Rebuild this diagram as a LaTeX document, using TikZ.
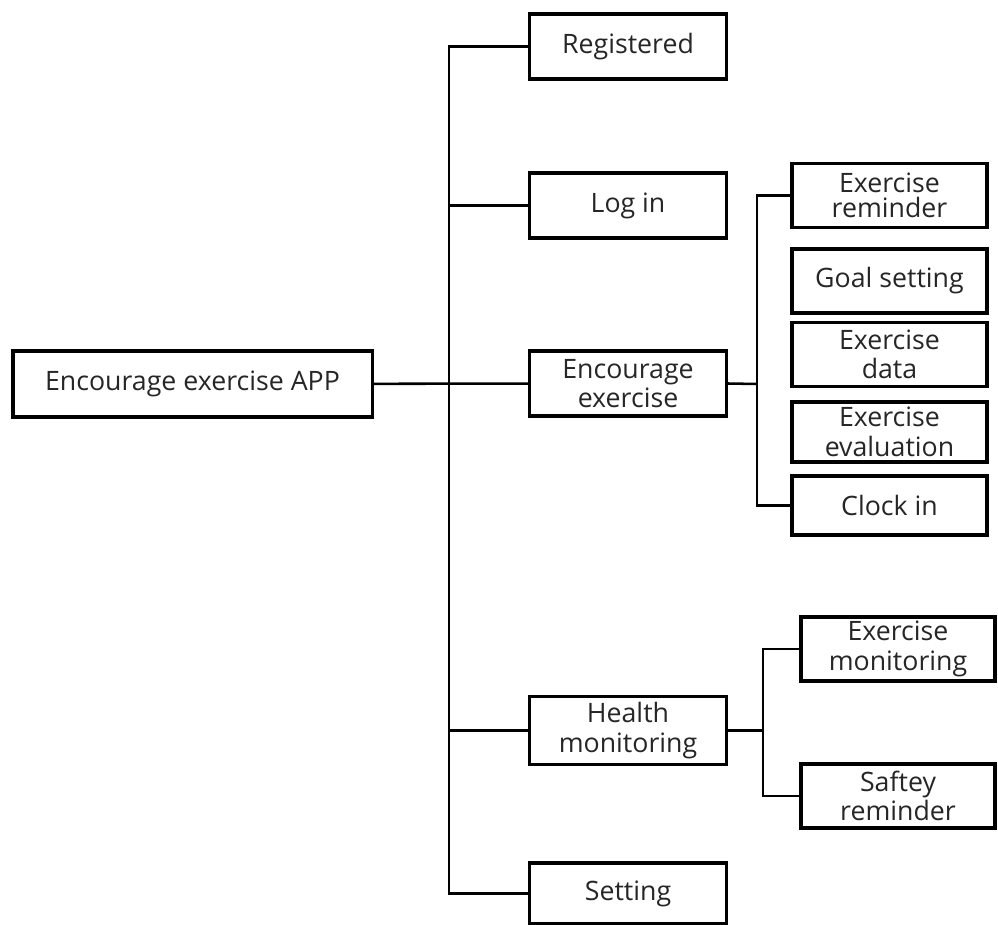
\documentclass[tikz,border=0pt]{standalone}
\usepackage{fontspec}
\setmainfont{Open Sans}
\usepackage{tikz}

\begin{document}
\begin{tikzpicture}[x=0.025cm, y=-0.025cm, font=\fontsize{19}{21}\selectfont,
    box/.style={draw, rectangle, line width=2.2pt, inner sep=0pt, align=center, text=black!85},
    root/.style={box, minimum width=8.975cm, minimum height=1.65cm},
    first/.style={box, minimum width=4.925cm, minimum height=1.625cm},
    second/.style={box, minimum width=4.875cm, minimum height=1.6cm},
    n/.style={line width=1.8pt}]
            \useasboundingbox (0,0) rectangle (998,925);
            % nodes
            \node[root] (app) at (192.5,384) {Encourage exercise APP};

            \node[first] (reg) at (628,46.5) {Registered};
            \node[first] (login) at (628,205.5) {Log in};
            \node[first] (enc) at (628,383.5) {Encourage\\exercise};
            \node[first, minimum height=1.7cm] (health) at (628,730.5) {Health\\monitoring};
            \node[first, minimum height=1.525cm] (setting) at (628,893.5) {Setting};

            \node[second] (remind) at (889.5,195.5) {Exercise\\[-3pt]reminder};
            \node[second] (goal) at (889.5,281) {Goal setting};
            \node[second] (data) at (889.5,354.5) {Exercise\\data};
            \node[second, minimum height=1.5cm] (eval) at (889.5,432) {Exercise\\evaluation};
            \node[second, minimum height=1.475cm] (clock) at (889.5,505.5) {Clock in};

            \node[second, minimum width=4.85cm] (exmon) at (898,649) {Exercise\\monitoring};
            \node[second, minimum width=4.85cm] (safety) at (898,796) {Saftey\\reminder};

            \coordinate (trunk) at (449,384);
            \coordinate (encbus) at (757,384);
            \coordinate (hbus) at (763,730.5);
            % edges
            \draw [n] (app) -- (enc);
            \draw [n] (reg.west) -| (trunk) |- (setting.west);
            \draw [n] (login.west) -- (login.west -| trunk);
            \draw [n] (health.west) -- (health.west -| trunk);

            \draw [n] (enc.east) -- (encbus);
            \draw [n] (remind.west) -| (encbus) |- (clock.west);

            \draw [n] (health.east) -- (hbus);
            \draw [n] (exmon.west) -| (hbus) |- (safety.west);
        \end{tikzpicture}
\end{document}
